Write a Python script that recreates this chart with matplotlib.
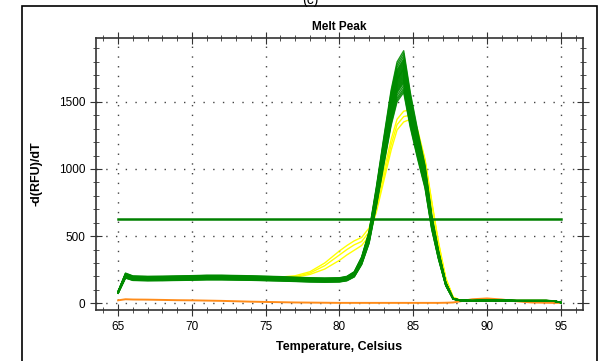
import numpy as np
import matplotlib
matplotlib.use("Agg")
import matplotlib.pyplot as plt
from matplotlib.patches import Rectangle
from matplotlib.ticker import MultipleLocator

plt.rcParams['font.family'] = ['Liberation Sans', 'DejaVu Sans']

# Temperature grid of the melt data (Celsius)
temps = [65.0, 65.5, 66.0, 67.0, 68.0, 69.0, 70.0, 71.0, 72.0, 73.0, 74.0, 75.0,
         76.0, 77.0, 78.0, 79.0, 80.0, 80.5, 81.0, 81.5, 82.0, 82.5, 83.0, 83.5,
         83.9, 84.35, 84.8, 85.3, 85.8, 86.25, 86.7, 87.2, 87.7, 88.2, 89.0, 90.0,
         91.0, 92.0, 93.0, 94.0, 94.5, 95.0]

# Typical green melt peak (peak height 1800)
green_template = [85, 215, 195, 192, 193, 195, 197, 200, 200, 198, 196, 193,
                  190, 186, 182, 180, 182, 192, 225, 330, 510, 830, 1180, 1520,
                  1720, 1800, 1500, 1230, 980, 630, 380, 150, 35, 22, 20, 22,
                  22, 20, 20, 20, 18, 6]

# Peak height of every green well
green_peaks = [1880, 1860, 1840, 1820, 1810, 1800, 1790, 1780, 1770, 1760,
               1750, 1745, 1740, 1730, 1720, 1710, 1700, 1690, 1680, 1670,
               1660, 1650, 1640, 1620, 1600, 1585, 1570]

# Yellow wells, later peak with a shoulder near 80 C
yellow_1 = [80, 200, 190, 188, 190, 192, 194, 196, 197, 196, 195, 194,
            195, 205, 235, 300, 390, 430, 465, 490, 560, 740, 980, 1220,
            1370, 1430, 1440, 1290, 1070, 760, 460, 190, 45, 22, 20, 22,
            22, 20, 20, 20, 18, 6]
yellow_2 = [80, 200, 190, 188, 190, 192, 194, 196, 197, 196, 195, 194,
            193, 198, 225, 280, 360, 400, 435, 460, 530, 700, 940, 1180,
            1330, 1390, 1400, 1270, 1060, 750, 450, 185, 45, 22, 20, 22,
            22, 20, 20, 20, 18, 6]
yellow_3 = [80, 200, 190, 188, 190, 192, 194, 196, 197, 196, 195, 194,
            192, 194, 215, 255, 320, 360, 395, 430, 500, 680, 910, 1140,
            1290, 1350, 1370, 1260, 1050, 740, 445, 180, 45, 22, 20, 22,
            22, 20, 20, 20, 18, 6]

# Orange (no template) well
orange_vals = [22, 30, 28, 27, 25, 23, 22, 20, 18, 15, 12, 10,
               8, 6, 5, 4, 3, 3, 3, 3, 3, 3, 3, 3,
               3, 3, 3, 3, 3, 3, 3, 4, 6, 15, 30, 36,
               28, 15, 6, 4, 3, 3]

threshold = 630

fig = plt.figure(figsize=(6.05, 3.61), dpi=100)
ax = fig.add_axes([96 / 605, 1 - 310 / 361, (583 - 96) / 605, (310 - 38) / 361])

t = np.array(temps)
ax.plot(t, orange_vals, color='#ff8c1a', lw=1.4, zorder=2)
for yv in (yellow_1, yellow_2, yellow_3):
    ax.plot(t, yv, color='#ffff00', lw=1.0, zorder=3)
for p in green_peaks:
    ax.plot(t, np.array(green_template) * p / 1800, color='#008a00', lw=1.0, alpha=0.9, zorder=4)
ax.plot([65, 95], [threshold, threshold], color='#008000', lw=1.8, zorder=5)

ax.set_xlim(63.5, 96.5)
ax.set_ylim(-50, 1975)
ax.xaxis.set_major_locator(MultipleLocator(5))
ax.xaxis.set_minor_locator(MultipleLocator(1))
ax.yaxis.set_major_locator(MultipleLocator(500))
ax.yaxis.set_minor_locator(MultipleLocator(100))
ax.grid(True, which='major', color='#444444', linestyle=(0, (1, 6)), lw=1)

ax.tick_params(which='both', top=True, right=True, labelsize=8.5, colors='#333333',
               labelcolor='black')
ax.tick_params(axis='x', which='major', direction='inout', length=8, pad=4)
ax.tick_params(axis='x', which='minor', direction='inout', length=5)
ax.tick_params(axis='y', which='major', direction='inout', length=8)
ax.tick_params(axis='y', which='minor', direction='inout', length=5)
for s in ax.spines.values():
    s.set_color('#333333')
    s.set_linewidth(1.2)

ax.set_title('Melt Peak', fontsize=8.5, fontweight='bold', pad=6)
ax.set_xlabel('Temperature, Celsius', fontsize=9, fontweight='bold', labelpad=6)
ax.set_ylabel('-d(RFU)/dT', fontsize=9, fontweight='bold', labelpad=12)

# outer frame around the panel
fig.add_artist(Rectangle((22 / 605, -0.05), (597 - 22) / 605, 1.05 - 6 / 361,
                         transform=fig.transFigure, fill=False, lw=1.2,
                         edgecolor='black', clip_on=False))
# panel letter, cut off at the top edge as in the source
fig.text(310 / 605, 1.0, '(c)', ha='center', va='center', fontsize=10)

fig.savefig('out.png', dpi=100)
